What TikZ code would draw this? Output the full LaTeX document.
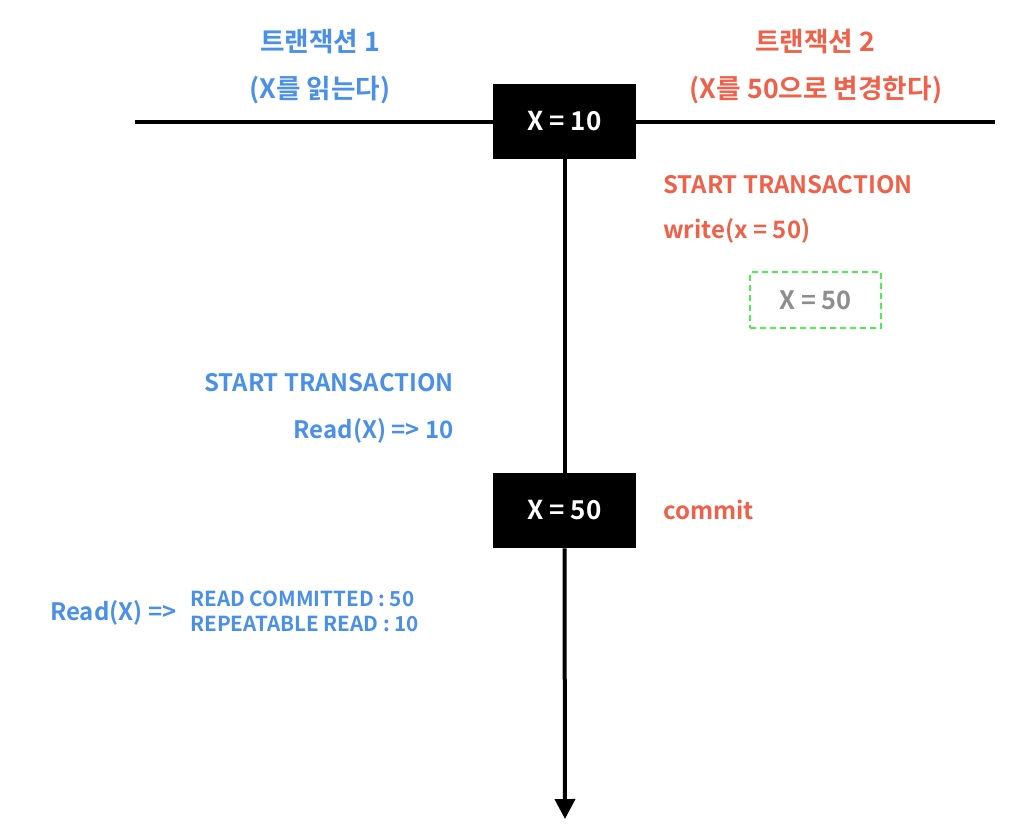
\documentclass[tikz,border=0pt]{standalone}
\usepackage{fontspec}
\setmainfont{Noto Sans CJK KR}[BoldFont={Noto Sans CJK KR Bold}]
\usetikzlibrary{arrows.meta}
\definecolor{tblue}{HTML}{4A90E6}
\definecolor{tred}{HTML}{F0614A}
\definecolor{tgreen}{HTML}{4CF04C}
\definecolor{tgray}{HTML}{8E8E8E}
\tikzset{
  lbl/.style={inner sep=0pt, font=\bfseries\fontsize{18}{20}\selectfont},
  ttl/.style={inner sep=0pt, font=\bfseries\fontsize{20}{22}\selectfont},
  small/.style={inner sep=0pt, font=\bfseries\fontsize{15.5}{17}\selectfont},
  valbox/.style={fill=black, minimum width=107.25pt, minimum height=56.25pt, inner sep=0pt, text=white, font=\bfseries\fontsize{19.5}{21}\selectfont},
  axis/.style={line width=3pt, black},
}
\begin{document}
\begin{tikzpicture}[x=0.75pt,y=-0.75pt]
\useasboundingbox (0,0) rectangle (1024,832);
\coordinate (L) at (135,122);
\coordinate (R) at (995,122);
\draw[axis] (L) -- (R);
\node[valbox] (b1) at (564.5,121.5) {X = 10};
\node[valbox] (b2) at (564.5,510.5) {X = 50};
\coordinate (end) at (565,819);
\draw[axis] (b1.south) -- (b2.north);
\draw[axis,-{Triangle[length=15pt,width=15pt]}] (b2.south) -- (end);
% titles
\node[ttl, text=tblue, anchor=base] (t1) at (320,51) {트랜잭션 1};
\node[ttl, text=tblue, anchor=base] (t1b) at (320,98) {(X를 읽는다)};
\node[ttl, text=tred, anchor=base] (t2) at (815,51) {트랜잭션 2};
\node[ttl, text=tred, anchor=base] (t2b) at (816,98) {(X를 50으로 변경한다)};
% transaction 2
\node[lbl, text=tred, anchor=base west] (s2) at (663,193) {START TRANSACTION};
\node[lbl, text=tred, anchor=base west] (w2) at (663,238) {write(x = 50)};
\node[draw=tgreen, dashed, line width=1.5pt, dash pattern=on 4.5pt off 3pt, minimum width=98pt, minimum height=42pt, inner sep=0pt, text=tgray, font=\bfseries\fontsize{19}{20}\selectfont] (p) at (815.5,300) {X = 50};
\node[lbl, text=tred, anchor=base west] (c2) at (663,519) {commit};
% transaction 1
\node[lbl, text=tblue, anchor=base east] (s1) at (454,391) {START TRANSACTION};
\node[lbl, text=tblue, anchor=base east] (r1) at (454,438) {Read(X) => 10};
\node[lbl, text=tblue, anchor=base west] (r2) at (50,620) {Read(X) =>};
\node[small, text=tblue, anchor=base west] (rc) at (190,606) {READ COMMITTED : 50};
\node[small, text=tblue, anchor=base west] (rr) at (190,631) {REPEATABLE READ : 10};
\end{tikzpicture}
\end{document}
